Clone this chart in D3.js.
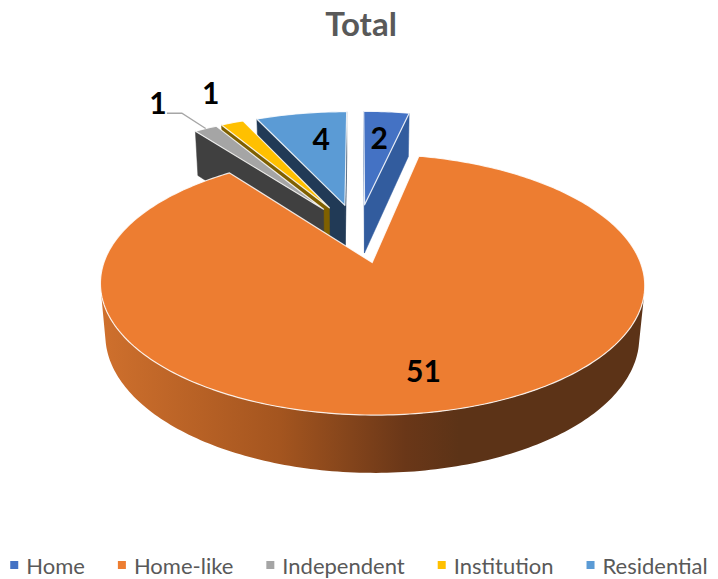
<!DOCTYPE html>
<html>
<head>
<meta charset="utf-8">
<script src="https://cdn.jsdelivr.net/npm/d3@7"></script>
<style>
  body { margin: 0; background: #fff; }
  svg { display: block; }
</style>
</head>
<body>
<svg id="chart" width="718" height="579"></svg>
<script>
// data
var categories = ["Home", "Home-like", "Independent", "Institution", "Residential"];
var values = [2, 51, 1, 1, 4];
var topColors = ["#4472C4", "#ED7D31", "#A5A5A5", "#FFC000", "#5B9BD5"];
var faceColors = ["#325C9E", "#8A4A1E", "#404040", "#7F6000", "#213A56"];
var title = "Total";

// label placement (radius from slice apex in pie radii, angle nudge in degrees)
var labelRadius = [0.7, 0.76, 1.41, 1.41, 0.7];
var labelNudge = [-0.5, 0, -1.5, 2.5, 3];
var labelLeader = [false, false, true, false, false];

// 3d view
var width = 718, height = 579;
var tilt = 27 * Math.PI / 180;
var camDist = 5.5;
var focal = 1417;
var cx = 358, cy = 232.8;
var radius = 1;
var depth = 0.22;
var explode = 0.25;

var sinT = Math.sin(tilt), cosT = Math.cos(tilt);
var camera = { x: 0, y: camDist * sinT, z: camDist * cosT };

function project(x, y, z) {
    var d = camDist - y * sinT - z * cosT;
    var sy = y * cosT - z * sinT;
    return [cx + focal * x / d, cy - focal * sy / d];
}

function point(off, a, r, y) {
    return project(off.x + r * Math.sin(a), y, off.z - r * Math.cos(a));
}

var svg = d3.select("#chart");
svg.append("rect").attr("width", width).attr("height", height).attr("fill", "#fff");

var defs = svg.append("defs");
var color = d3.scaleOrdinal().domain(categories).range(topColors);
var faceColor = d3.scaleOrdinal().domain(categories).range(faceColors);

var pie = d3.pie().sort(null).value(function(d) { return d.value; });
var slices = pie(categories.map(function(c, i) { return { name: c, value: values[i], idx: i }; }));

slices.forEach(function(s) {
    s.mid = (s.startAngle + s.endAngle) / 2;
    s.off = { x: explode * Math.sin(s.mid), z: -explode * Math.cos(s.mid) };
});

var line = d3.line();
function polyPath(pts) { return line(pts) + "Z"; }

// side gradient for the big slice
var grad = defs.append("linearGradient")
    .attr("id", "sideGrad")
    .attr("gradientUnits", "userSpaceOnUse")
    .attr("x1", 100).attr("y1", 0).attr("x2", 645).attr("y2", 0);
[[0, "#CF702D"], [0.33, "#A4551F"], [0.56, "#6A3718"], [0.66, "#5C3317"], [1, "#5C3317"]]
    .forEach(function(st) {
        grad.append("stop").attr("offset", st[0]).attr("stop-color", st[1]);
    });

function sideVisible(s, a) {
    var px = s.off.x + radius * Math.sin(a);
    var pz = s.off.z - radius * Math.cos(a);
    var nx = Math.sin(a), nz = -Math.cos(a);
    return nx * (camera.x - px) + nz * (camera.z - pz) > 0;
}

function faceVisible(s, a, nx, nz) {
    var px = s.off.x + 0.5 * radius * Math.sin(a);
    var pz = s.off.z - 0.5 * radius * Math.cos(a);
    return nx * (camera.x - px) + nz * (camera.z - pz) > 0;
}

// draw far slices first
var order = slices.slice().sort(function(a, b) { return a.off.z - b.off.z; });
var g = svg.append("g");

order.forEach(function(s) {
    var sg = g.append("g");
    var steps = Math.max(4, Math.ceil((s.endAngle - s.startAngle) / (Math.PI / 180)));
    var angles = d3.range(steps + 1).map(function(k) {
        return s.startAngle + (s.endAngle - s.startAngle) * k / steps;
    });

    // outer curved side
    var vis = angles.filter(function(a) { return sideVisible(s, a); });
    if (vis.length > 1) {
        var topEdge = vis.map(function(a) { return point(s.off, a, radius, 0); });
        var botEdge = vis.slice().reverse().map(function(a) { return point(s.off, a, radius, -depth); });
        sg.append("path")
            .attr("d", polyPath(topEdge.concat(botEdge)))
            .attr("fill", s.data.idx === 1 ? "url(#sideGrad)" : faceColor(s.data.name));
    }

    // cut faces
    [[s.startAngle, -Math.cos(s.startAngle), -Math.sin(s.startAngle)],
     [s.endAngle, Math.cos(s.endAngle), Math.sin(s.endAngle)]].forEach(function(f) {
        if (!faceVisible(s, f[0], f[1], f[2])) return;
        var pts = [point(s.off, f[0], 0, 0), point(s.off, f[0], radius, 0),
                   point(s.off, f[0], radius, -depth), point(s.off, f[0], 0, -depth)];
        sg.append("path")
            .attr("d", polyPath(pts))
            .attr("fill", faceColor(s.data.name))
            .attr("stroke", faceColor(s.data.name))
            .attr("stroke-width", 0.5);
    });

    // top face
    var topPts = [point(s.off, 0, 0, 0)].concat(angles.map(function(a) { return point(s.off, a, radius, 0); }));
    sg.append("path")
        .attr("d", polyPath(topPts))
        .attr("fill", color(s.data.name))
        .attr("stroke", "#fff")
        .attr("stroke-opacity", 0.85)
        .attr("stroke-width", 1.2)
        .attr("stroke-linejoin", "round");
});

// data labels
slices.forEach(function(s) {
    var i = s.data.idx;
    var a = s.mid + labelNudge[i] * Math.PI / 180;
    var p = point(s.off, a, labelRadius[i] * radius, 0);
    if (labelLeader[i]) {
        var rim = point(s.off, s.mid, radius, 0);
        svg.append("path")
            .attr("d", line([[p[0] + 9, p[1] + 11], [p[0] + 24, p[1] + 11], rim]))
            .attr("fill", "none")
            .attr("stroke", "#A6A6A6")
            .attr("stroke-width", 1.3);
    }
    svg.append("text")
        .attr("x", p[0]).attr("y", p[1])
        .attr("text-anchor", "middle")
        .attr("dominant-baseline", "central")
        .attr("font-family", "Lato, 'Open Sans', sans-serif")
        .attr("font-weight", "bold")
        .attr("font-size", 30)
        .attr("fill", "#000")
        .text(s.data.value);
});

// title
svg.append("text")
    .attr("x", 361).attr("y", 36)
    .attr("text-anchor", "middle")
    .attr("font-family", "Lato, 'Open Sans', sans-serif")
    .attr("font-weight", "bold")
    .attr("font-size", 33)
    .attr("fill", "#595959")
    .text(title);

// legend
var legend = svg.append("g");
var items = legend.selectAll("g").data(categories).enter().append("g");
items.append("rect")
    .attr("width", 8).attr("height", 8)
    .attr("y", -4)
    .attr("fill", function(d) { return color(d); });
items.append("text")
    .attr("x", 16)
    .attr("y", 0)
    .attr("dominant-baseline", "central")
    .attr("font-family", "Lato, 'Open Sans', sans-serif")
    .attr("font-size", 22)
    .attr("fill", "#595959")
    .text(function(d) { return d; });

var xPos = 0, gap = 33, positions = [];
items.each(function() {
    var w = d3.select(this).select("text").node().getComputedTextLength();
    positions.push(xPos);
    xPos += 16 + w + gap;
});
var total = xPos - gap;
var startX = (width - total) / 2;
items.attr("transform", function(d, i) { return "translate(" + (startX + positions[i]) + ",565)"; });
</script>
</body>
</html>
